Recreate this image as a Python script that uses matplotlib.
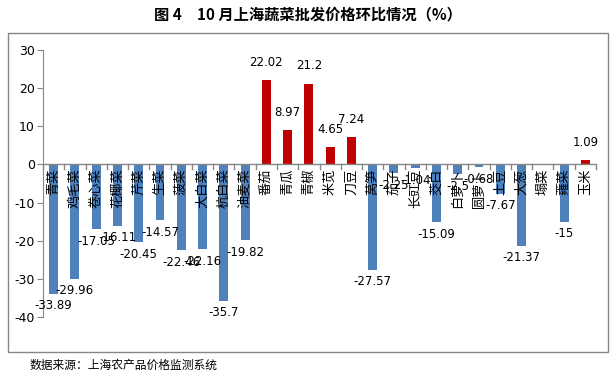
import matplotlib
matplotlib.use("Agg")
import matplotlib.pyplot as plt
from matplotlib.patches import Rectangle

plt.rcParams['font.family'] = ['Noto Sans CJK SC', 'DejaVu Sans']

# data
categories = ["青菜", "鸡毛菜", "卷心菜", "花椰菜", "芹菜", "生菜", "菠菜", "大白菜",
              "杭白菜", "油麦菜", "番茄", "青瓜", "青椒", "米苋", "刀豆", "莴笋",
              "茄子", "长豇豆", "茭白", "白萝卜", "圆萝卜", "土豆", "大葱", "塌菜",
              "蕹菜", "玉米"]
values = [-33.89, -29.96, -17.05, -16.11, -20.45, -14.57, -22.46, -22.16,
          -35.7, -19.82, 22.02, 8.97, 21.2, 4.65, 7.24, -27.57,
          -2.25, -1.04, -15.09, -2.5, -0.68, -7.67, -21.37, 0,
          -15, 1.09]
yticks = [30, 20, 10, 0, -10, -20, -30, -40]

BLUE = "#4F81BD"
RED = "#C00000"
GRAY = "#868686"

fig = plt.figure(figsize=(6.16, 3.77), dpi=100)

# outer chart frame
fig.patches.append(Rectangle((8 / 616, 1 - 352 / 377), 600 / 616, 319 / 377,
                             transform=fig.transFigure, fill=False,
                             edgecolor=GRAY, linewidth=1.0))

ax = fig.add_axes([43 / 616, 1 - 317 / 377, 553 / 616, 267 / 377])

x = list(range(len(categories)))
colors = [RED if v > 0 else BLUE for v in values]
ax.bar(x, values, width=0.42, color=colors, zorder=2)

ax.set_xlim(-0.5, len(categories) - 0.5)
ax.set_ylim(-40, 30)
ax.set_yticks(yticks)
ax.set_yticklabels([str(t) for t in yticks], fontsize=9, family='DejaVu Sans')
ax.tick_params(axis='y', direction='out', length=4, color=GRAY, pad=2)

for s in ['top', 'right', 'bottom']:
    ax.spines[s].set_visible(False)
ax.spines['left'].set_color(GRAY)
ax.set_xticks([])

# zero line with category separators
ax.axhline(0, color=GRAY, linewidth=1.0, zorder=3)
for i in range(len(categories) + 1):
    ax.plot([i - 0.5, i - 0.5], [0, -1.2], color=GRAY, linewidth=1.0,
            zorder=3, clip_on=False)

# category labels rotated just below zero line
for i, name in enumerate(categories):
    ax.annotate(name, (i, 0), xytext=(0, -3), textcoords='offset points',
                rotation=90, ha='center', va='top', fontsize=9.5, zorder=4)

# value labels
for i, v in enumerate(values):
    if v == 0:
        continue
    label = f"{v:g}"
    if v > 0:
        ax.annotate(label, (i, v), xytext=(0, 8), textcoords='offset points',
                    ha='center', va='bottom', fontsize=8.5, family='DejaVu Sans')
    else:
        ax.annotate(label, (i, v), xytext=(0, -4), textcoords='offset points',
                    ha='center', va='top', fontsize=8.5, family='DejaVu Sans')

fig.text(0.5, 1 - 14 / 377, "图 4　10 月上海蔬菜批发价格环比情况（%）",
         ha='center', va='center', fontsize=11, fontweight='bold')
fig.text(30 / 616, 1 - 365 / 377, "数据来源：上海农产品价格监测系统",
         ha='left', va='center', fontsize=8.5)

fig.savefig("out.png", dpi=100)
